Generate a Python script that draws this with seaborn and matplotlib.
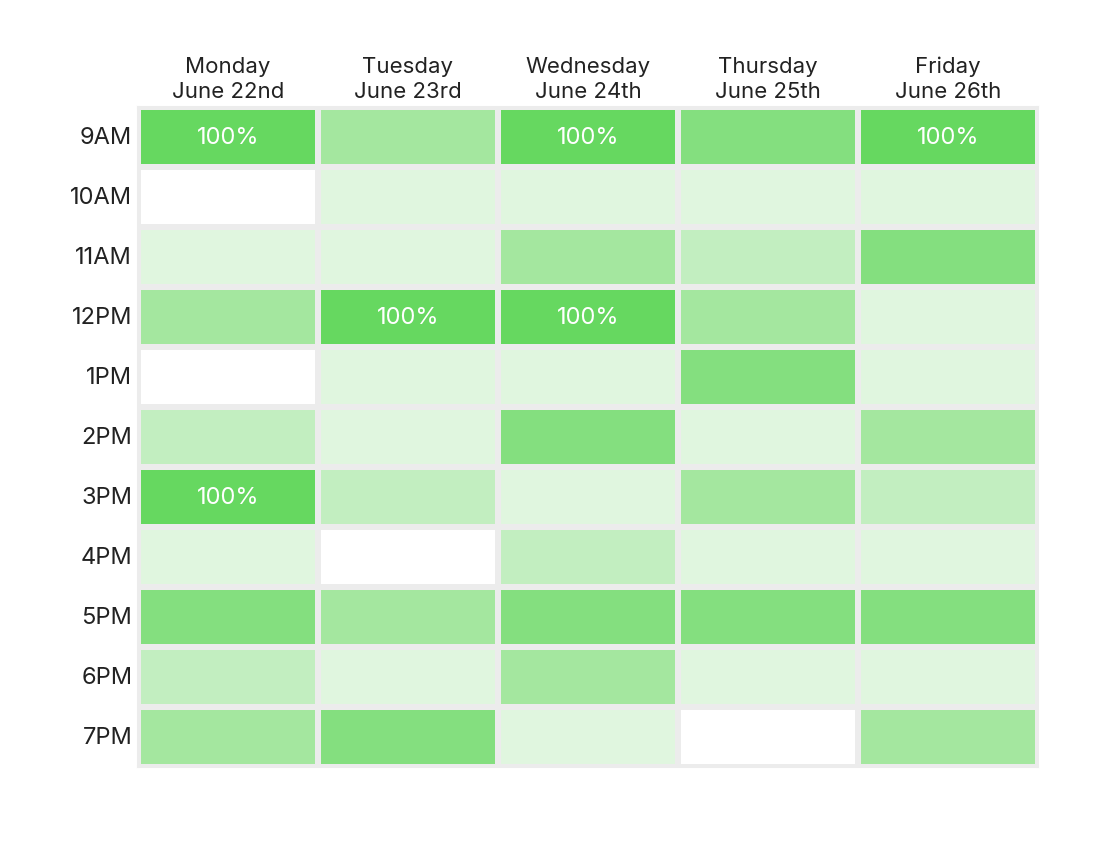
import numpy as np
import pandas as pd
import seaborn as sns
import matplotlib.pyplot as plt
from matplotlib.colors import ListedColormap, BoundaryNorm

days = ['Monday\nJune 22nd', 'Tuesday\nJune 23rd', 'Wednesday\nJune 24th',
        'Thursday\nJune 25th', 'Friday\nJune 26th']
hours = ['9AM', '10AM', '11AM', '12PM', '1PM', '2PM', '3PM', '4PM', '5PM', '6PM', '7PM']

# percent availability (discrete shades)
monday = [100, 0, 20, 60, 0, 40, 100, 20, 80, 40, 60]
tuesday = [60, 20, 20, 100, 20, 20, 40, 0, 60, 20, 80]
wednesday = [100, 20, 60, 100, 20, 80, 20, 40, 80, 60, 20]
thursday = [80, 20, 40, 60, 80, 20, 60, 20, 80, 20, 0]
friday = [100, 20, 80, 20, 20, 60, 40, 20, 80, 20, 60]

data = pd.DataFrame({days[0]: monday, days[1]: tuesday, days[2]: wednesday,
                     days[3]: thursday, days[4]: friday}, index=hours)

colors = ['#ffffff', '#e0f6df', '#c2eec0', '#a4e79f', '#84df7f', '#66d860']
cmap = ListedColormap(colors)
norm = BoundaryNorm([-10, 10, 30, 50, 70, 90, 110], cmap.N)

labels = data.map(lambda v: '100%' if v == 100 else '')

plt.rcParams['font.family'] = ['Inter', 'DejaVu Sans']
fig = plt.figure(figsize=(10.94, 8.62), dpi=100)
ax = fig.add_axes([0.126, 0.109, 0.823, 0.766])
sns.heatmap(data, ax=ax, cmap=cmap, norm=norm, cbar=False,
            annot=labels, fmt='', annot_kws={'fontsize': 17, 'color': 'white'},
            linewidths=3, linecolor='#ececec')

ax.xaxis.tick_top()
ax.tick_params(length=0, pad=4)
ax.set_xticklabels(days, fontsize=16, color='#222222', linespacing=1.3)
ax.set_yticklabels(hours, fontsize=17, color='#222222', rotation=0)
ax.set_xlabel('')
ax.set_ylabel('')
for s in ax.spines.values():
    s.set_visible(True)
    s.set_color('#ececec')
    s.set_linewidth(1.5)

fig.savefig('out.png', dpi=100)
